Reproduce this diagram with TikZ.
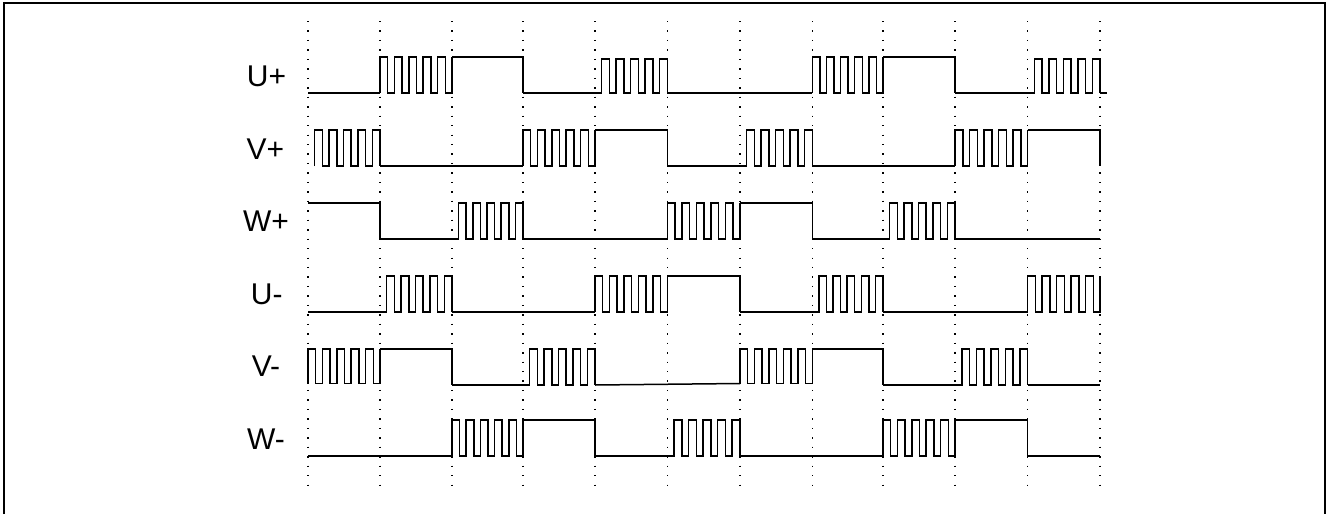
\documentclass[tikz,border=0pt]{standalone}
\usepackage{fontspec}
\setmainfont{Liberation Sans}

% One picture unit is one pixel of the 1327x514 frame
\def\gridx{{308,380,452,523,595,667.3,740,812.3,883,955,1027.5,1100}}
\newcommand{\segL}{\draw[wave] (\xa,\lo) -- (\xb,\lo);}
\newcommand{\segH}{\draw[wave] (\xa,\hi) -- (\xb,\hi) -- (\xb,\lo);}
\newcommand{\segN}{}
% Pulse train that opens with a rising edge
\newcommand{\pwmrise}[1]{\draw[wave] (\xa,#1) \foreach \n in {0,...,4} {
		-- ({\xa+\n*\pwmT},#1) -- ({\xa+\n*\pwmT},\hi)
		-- ({\xa+\n*\pwmT+\pwmH},\hi) -- ({\xa+\n*\pwmT+\pwmH},#1)} -- (\xb,#1) -- (\xb,\hi);}
% Pulse train that closes with a falling edge
\newcommand{\pwmfall}[2]{\draw[wave] (#2,\lo) \foreach \n in {1,...,5} {
		-- ({\xa+\n*\pwmT-\pwmH},\lo) -- ({\xa+\n*\pwmT-\pwmH},#1)
		-- ({\xa+\n*\pwmT},#1) -- ({\xa+\n*\pwmT},\lo)};}
\newcommand{\segA}{\pwmrise{\lo}}
\newcommand{\segD}{\pwmrise{\lo-1.5}}
\newcommand{\segB}{\pwmfall{\hi}{\xa}}
\newcommand{\segC}{\pwmfall{\hi+2}{\xa}}
\newcommand{\segE}{\pwmfall{\hi}{\xa+\pwmT-\pwmH}}
% One row: high level, low level, kind of each of the eleven sectors
\newcommand{\wave}[3]{
	\def\hi{#1}
	\def\lo{#2}
	\foreach \kind [count=\i from 0] in {#3} {
		\pgfmathsetmacro{\xa}{\gridx[\i]}
		\pgfmathsetmacro{\xb}{\gridx[\i+1]}
		\pgfmathsetmacro{\pwmT}{(\xb-\xa)/5}
		\pgfmathsetmacro{\pwmH}{0.535*\pwmT}
		\csname seg\kind\endcsname
	}
}

\begin{document}
\begin{tikzpicture}[x=1pt,y=-1pt]
	% Styles
	\tikzstyle{wave} = [draw=black, line width=1.5pt, line cap=butt]
	\tikzstyle{tick_line} = [black, line width=1.4pt, dash pattern=on 1.4pt off 8.06pt]
	\tikzstyle{row_label} = [anchor=center, inner sep=0pt, font=\fontsize{30}{30}\selectfont]

	\useasboundingbox (0,0) rectangle (1327,514);

	% Outer frame, open at the foot of the page
	\draw[black, line width=2pt] (4,514) -- (4,3) -- (1325,3) -- (1325,514);

	% Dotted sector lines
	\foreach \x in {308,380,452,523,595,667.3,740,812.3,883,955,1027.5,1100} {
		\draw[tick_line] (\x,21) -- (\x,486);
	}

	% Row labels
	\node[row_label] (uplus) at (266.5,76) {U+};
	\node[row_label] (vplus) at (265.5,149) {V+};
	\node[row_label] (wplus) at (266,221) {W+};
	\node[row_label] (uminus) at (266.7,294.5) {U-};
	\node[row_label] (vminus) at (266,366) {V-};
	\node[row_label] (wminus) at (266,439) {W-};

	% Switching patterns
	\wave{57}{93}{L,A,H,L,C,L,L,A,H,L,C}
	\draw[wave] (1100,93) -- (1107,93);
	\wave{130}{166}{E,L,L,A,H,L,B,L,L,A,H}
	\wave{203}{239}{H,L,B,L,L,A,H,L,B,L,L}
	\wave{276}{312}{L,B,L,L,A,H,L,B,L,L,A}
	\wave{349}{385}{D,H,L,B,N,N,D,H,L,B,L}
	\draw[wave] (595,385) -- (740,383.5);
	\wave{420}{456}{L,L,A,H,L,B,L,L,A,H,L}
\end{tikzpicture}
\end{document}
